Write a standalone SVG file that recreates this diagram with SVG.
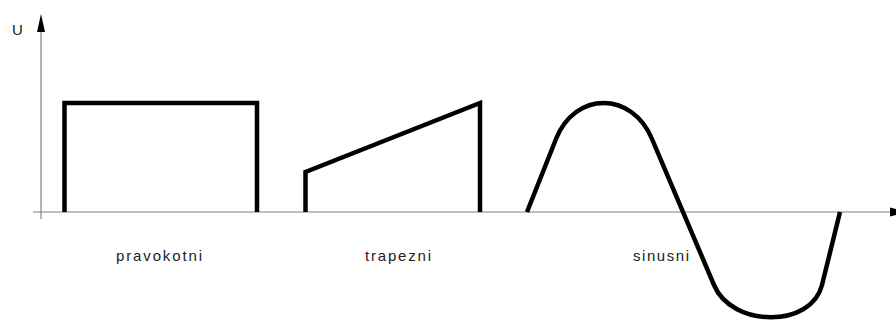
<svg xmlns="http://www.w3.org/2000/svg" width="896" height="320" viewBox="0 0 896 320">
  <style>
    .axis { stroke: #808080; stroke-width: 1.2; fill: none; }
    .head { fill: #000; stroke: none; }
    .wave { stroke: #000; stroke-width: 4.5; fill: none; stroke-linejoin: miter; stroke-linecap: butt; }
    .lbl { font-family: "Liberation Sans", "DejaVu Sans", sans-serif; font-size: 15px; fill: #222; }
  </style>
  <rect width="896" height="320" fill="#fff"/>
  <g id="axes">
    <line class="axis" x1="41" y1="30" x2="41" y2="219"/>
    <polygon class="head" points="41,14 37,32 45,32"/>
    <line class="axis" x1="33" y1="212" x2="893" y2="212"/>
    <polygon class="head" points="908,212 890,207.5 890,216.5"/>
    <text class="lbl" x="12" y="35" font-size="16">U</text>
  </g>
  <g id="pravokotni">
    <polyline class="wave" points="64.5,212 64.5,103 257,103 257,212"/>
    <text class="lbl" x="116" y="261" textLength="86" lengthAdjust="spacing">pravokotni</text>
  </g>
  <g id="trapezni">
    <polyline class="wave" points="305.5,212 305.5,172 480,103 480,212"/>
    <text class="lbl" x="365" y="261" textLength="66" lengthAdjust="spacing">trapezni</text>
  </g>
  <g id="sinusni">
    <path class="wave" d="M527,212 L556,139 C575,91 632,91 652,139 L714,285 C732,328 811.5,328 822,285 L840,212"/>
    <text class="lbl" x="633" y="261" textLength="56" lengthAdjust="spacing">sinusni</text>
  </g>
</svg>
